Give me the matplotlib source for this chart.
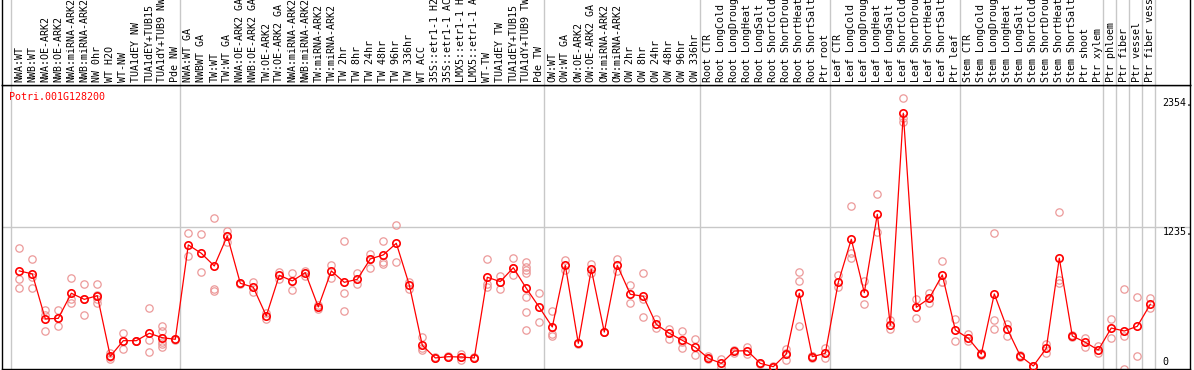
import numpy as np
import matplotlib
matplotlib.use("Agg")
import matplotlib.pyplot as plt

# Nombres de las muestras (recortados a 14 caracteres como en la imagen)
muestras = [
    "NWA:WT", "NWB:WT", "NWA:OE-ARK2", "NWB:OE-ARK2", "NWA:miRNA-ARK2",
    "NWB:miRNA-ARK2", "NW 0hr", "WT H2O", "WT-NW", "TUA1dEY NW",
    "TUA1dEY+TUB15", "TUA1dY+TUB9 NW", "Pde NW",
    "NWA:WT GA", "NWBWT GA", "TW:WT", "TW:WT GA", "NWA:OE-ARK2 GA",
    "NWB:OE-ARK2 GA", "TW:OE-ARK2", "TW:OE-ARK2 GA", "NWA:miRNA-ARK2",
    "NWB:miRNA-ARK2", "TW:miRNA-ARK2", "TW:miRNA-ARK2", "TW 2hr", "TW 8hr",
    "TW 24hr", "TW 48hr", "TW 96hr", "TW 336hr", "WT ACC", "35S::etr1-1 H2",
    "35S::etr1-1 AC", "LMX5::etr1-1 H", "LMX5::etr1-1 A", "WT-TW",
    "TUA1dEY TW", "TUA1dEY+TUB15", "TUA1dY+TUB9 TW", "Pde TW",
    "OW:WT", "OW:WT GA", "OW:OE-ARK2", "OW:OE-ARK2 GA", "OW:miRNA-ARK2",
    "OW:miRNA-ARK2", "OW 2hr", "OW 8hr", "OW 24hr", "OW 48hr", "OW 96hr",
    "OW 336hr",
    "Root CTR", "Root LongCold", "Root LongDroug", "Root LongHeat",
    "Root LongSalt", "Root ShortCold", "Root ShortDrou", "Root ShortHeat",
    "Root ShortSalt", "Ptr root",
    "Leaf CTR", "Leaf LongCold", "Leaf LongDroug", "Leaf LongHeat",
    "Leaf LongSalt", "Leaf ShortCold", "Leaf ShortDrou", "Leaf ShortHeat",
    "Leaf ShortSalt", "Ptr leaf",
    "Stem CTR", "Stem LongCold", "Stem LongDroug", "Stem LongHeat",
    "Stem LongSalt", "Stem ShortCold", "Stem ShortDrou", "Stem ShortHeat",
    "Stem ShortSalt", "Ptr shoot", "Ptr xylem", "Ptr phloem", "Ptr fiber",
    "Ptr vessel", "Ptr fiber vess",
]

# Tamaño de cada grupo (separados por líneas verticales)
grupos = [13, 28, 12, 10, 10, 11, 1, 1, 1, 1]

# Valores medios de expresión
medias = [
    852, 826, 435, 440, 658, 605, 637, 110, 246, 246, 310, 272, 258,
    1078, 1005, 895, 1156, 745, 710, 461, 814, 765, 837, 539, 852, 753, 779,
    956, 991, 1092, 730, 206, 96, 107, 104, 96, 797, 759, 880, 701, 536,
    365, 901, 223, 866, 321, 901, 649, 632, 388, 310, 249, 189,
    93, 49, 156, 159, 49, 20, 130, 658, 107, 136,
    753, 1127, 663, 1344, 380, 2222, 536, 614, 817, 339,
    267, 130, 652, 348, 113, 26, 180, 962, 287, 232, 165, 356, 330, 371, 562,
]

# Réplicas individuales
replicas = [
    [1049, 785, 707], [953, 797, 707], [513, 469, 330], [513, 440, 371],
    [788, 611, 571], [736, 605, 466], [736, 640, 605, 571], [142, 107, 84],
    [316, 246, 174], [246, 240], [527, 252, 145], [374, 330, 237, 220, 194],
    [262, 255],
    [1179, 982], [1173, 840], [1312, 692, 680], [1202, 1156, 1101],
    [748, 742], [753, 666], [487, 435], [846, 782], [837, 686], [854, 808],
    [553, 525], [904, 794], [1110, 658, 504], [837, 736], [1002, 956, 880],
    [1110, 932, 912], [1249, 927], [759, 693], [275, 180, 165], [100, 92],
    [110, 104], [128, 104, 80], [100, 92], [953, 739, 715], [808, 759, 693],
    [962, 880, 814], [930, 889, 860, 837, 623, 495, 339], [658, 408],
    [504, 300, 290], [947, 860], [226, 220], [912, 831], [325, 318],
    [953, 852], [730, 571], [837, 608, 449], [432, 354], [350, 263],
    [330, 232, 185], [258, 122],
    [110, 85], [84, 20], [165, 139], [194, 130], [55, 45], [25, 15],
    [171, 140, 78], [840, 762, 374], [116, 110, 95], [180, 93],
    [817, 710], [1416, 1005, 962], [762, 562], [1518, 1188], [426, 345],
    [2354, 2179, 2149], [608, 443], [658, 576], [936, 759, 756], [432, 246],
    [304, 243], [135, 125], [1179, 426, 348], [391, 289], [125, 100],
    [30, 22], [217, 136], [1362, 773, 745], [295, 280], [267, 194],
    [203, 142], [434, 269], [693, 287, 3], [628, 113], [614, 527],
]

gen = "Potri.001G128200"
ticks_y = [2354, 1235]

fuente = "DejaVu Sans Mono"
tam = 7.2
gris = "#c8c8c8"

W, H = 1194, 370
fig = plt.figure(figsize=(W / 100, H / 100), dpi=100)

# Ejes del gráfico y de las etiquetas (en píxeles)
izq, der, arriba, abajo = 2, 1190, 85, 369
ax = fig.add_axes([izq / W, (H - abajo) / H, (der - izq) / W, (abajo - arriba) / H])
ax_lab = fig.add_axes([izq / W, (H - arriba) / H, (der - izq) / W, arriba / H], sharex=ax)

x = np.arange(len(muestras))
xmin = (izq - 19.3) / 13
xmax = (der - 19.3) / 13
ax.set_xlim(xmin, xmax)
ax.set_ylim(0, 2467)

# Líneas de separación de grupos
limites = np.concatenate([[0], np.cumsum(grupos)]) - 0.64
for b in limites:
    ax.axvline(b, color=gris, lw=1, zorder=0)
    ax_lab.axvline(b, color=gris, lw=1, zorder=0)
ax.axhline(ticks_y[1], color=gris, lw=1, zorder=0)

# Réplicas
for i, reps in enumerate(replicas):
    ax.plot([i] * len(reps), reps, "o", ms=5.3, mfc="none", mec="#ec9a9a",
            mew=0.9, zorder=2)

# Medias
ax.plot(x, medias, "-", color="red", lw=0.9, zorder=3)
ax.plot(x, medias, "o", ms=5.3, mfc="none", mec="red", mew=1.2, zorder=4)

# Textos del eje y, a la derecha y dentro del gráfico
for v in ticks_y:
    ax.text(0.977, v, f"{v}.", transform=ax.get_yaxis_transform(),
            ha="left", va="top", family=fuente, fontsize=tam)
ax.text(0.977, 20, "0", transform=ax.get_yaxis_transform(),
        ha="left", va="bottom", family=fuente, fontsize=tam)

ax.text(0.006, 0.975, gen, transform=ax.transAxes, ha="left", va="top",
        color="red", family=fuente, fontsize=tam)

ax.set_xticks([])
ax.set_yticks([])
for s in ax.spines.values():
    s.set_linewidth(1)
    s.set_color("black")

# Etiquetas verticales de las muestras
ax_lab.set_ylim(0, 1)
for i, m in enumerate(muestras):
    ax_lab.text(i, 0.03, m, rotation=90, ha="center", va="bottom",
                family=fuente, fontsize=tam)
ax_lab.set_xticks([])
ax_lab.set_yticks([])
ax_lab.spines["top"].set_visible(False)
for s in ["left", "right", "bottom"]:
    ax_lab.spines[s].set_linewidth(1)
    ax_lab.spines[s].set_color("black")

fig.savefig("out.png", dpi=100)
